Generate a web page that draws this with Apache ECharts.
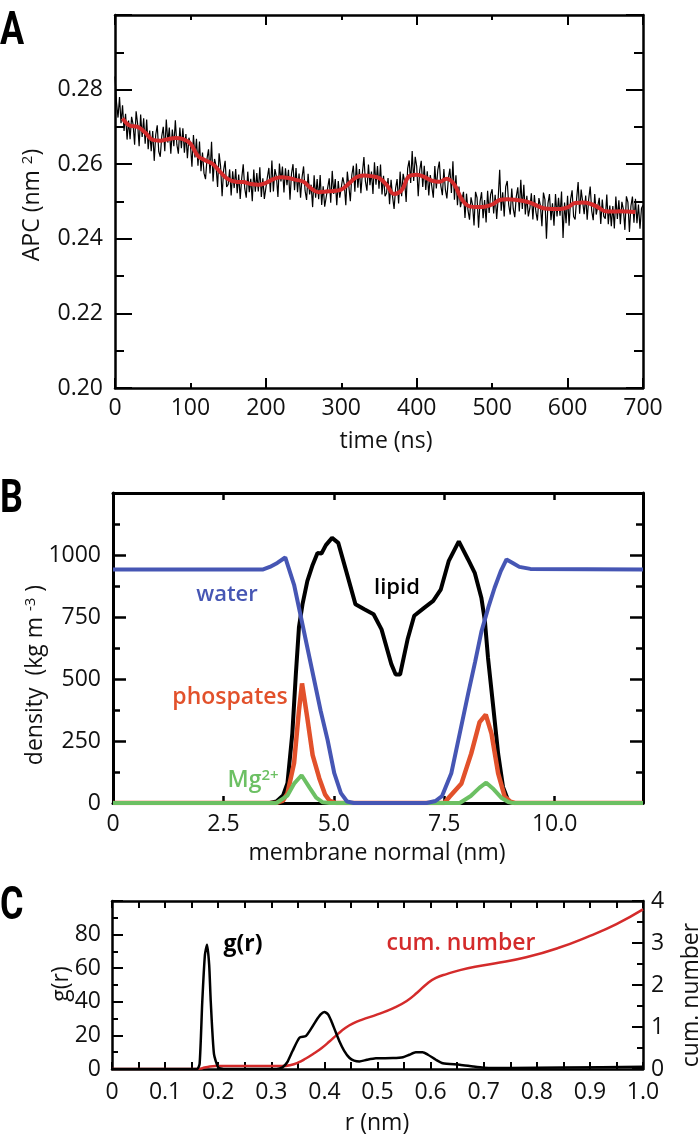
<!DOCTYPE html>
<html>
<head>
<meta charset="utf-8">
<title>APC, density profile and g(r)</title>
<script src="https://cdn.jsdelivr.net/npm/echarts@6.0.0/dist/echarts.min.js"></script>
<style>
html, body { margin: 0; padding: 0; background: #fff; }
#chart { width: 700px; height: 1137px; }
</style>
</head>
<body>
<div id="chart"></div>
<script>
// ---- panel A: area per lipid (APC) vs time ----
var rawStart = 0, rawStep = 2      // ns, sampling of the raw trace
var apcRaw = [
  0.2835, 0.2765, 0.2725, 0.2780, 0.2710, 0.2758, 0.2689, 0.2735, 0.2666, 0.2717,
  0.2667, 0.2727, 0.2707, 0.2652, 0.2742, 0.2708, 0.2648, 0.2733, 0.2673, 0.2723,
  0.2655, 0.2720, 0.2640, 0.2690, 0.2635, 0.2689, 0.2609, 0.2679, 0.2704, 0.2634,
  0.2620, 0.2675, 0.2700, 0.2635, 0.2720, 0.2658, 0.2698, 0.2628, 0.2693, 0.2648,
  0.2718, 0.2653, 0.2628, 0.2698, 0.2643, 0.2696, 0.2631, 0.2681, 0.2616, 0.2671,
  0.2653, 0.2593, 0.2678, 0.2618, 0.2668, 0.2596, 0.2661, 0.2581, 0.2631, 0.2576,
  0.2560, 0.2615, 0.2640, 0.2575, 0.2660, 0.2554, 0.2614, 0.2594, 0.2539, 0.2629,
  0.2594, 0.2514, 0.2584, 0.2609, 0.2539, 0.2546, 0.2586, 0.2516, 0.2581, 0.2536,
  0.2587, 0.2522, 0.2572, 0.2507, 0.2562, 0.2600, 0.2535, 0.2510, 0.2580, 0.2525,
  0.2561, 0.2501, 0.2586, 0.2526, 0.2576, 0.2527, 0.2592, 0.2512, 0.2562, 0.2507,
  0.2510, 0.2565, 0.2590, 0.2525, 0.2610, 0.2527, 0.2587, 0.2567, 0.2512, 0.2602,
  0.2554, 0.2594, 0.2524, 0.2589, 0.2544, 0.2585, 0.2505, 0.2575, 0.2600, 0.2530,
  0.2590, 0.2525, 0.2575, 0.2510, 0.2565, 0.2594, 0.2529, 0.2504, 0.2574, 0.2519,
  0.2545, 0.2485, 0.2570, 0.2510, 0.2560, 0.2506, 0.2571, 0.2491, 0.2541, 0.2486,
  0.2482, 0.2537, 0.2562, 0.2497, 0.2582, 0.2520, 0.2560, 0.2490, 0.2555, 0.2510,
  0.2505, 0.2565, 0.2545, 0.2490, 0.2580, 0.2581, 0.2501, 0.2571, 0.2596, 0.2526,
  0.2602, 0.2537, 0.2587, 0.2522, 0.2577, 0.2619, 0.2554, 0.2529, 0.2599, 0.2544,
  0.2580, 0.2520, 0.2605, 0.2545, 0.2595, 0.2534, 0.2599, 0.2519, 0.2569, 0.2514,
  0.2523, 0.2563, 0.2493, 0.2558, 0.2513, 0.2480, 0.2535, 0.2560, 0.2495, 0.2580,
  0.2514, 0.2574, 0.2554, 0.2499, 0.2589, 0.2610, 0.2550, 0.2635, 0.2555, 0.2620,
  0.2594, 0.2514, 0.2584, 0.2609, 0.2539, 0.2596, 0.2531, 0.2581, 0.2516, 0.2571,
  0.2570, 0.2510, 0.2595, 0.2535, 0.2585, 0.2607, 0.2542, 0.2517, 0.2587, 0.2532,
  0.2508, 0.2563, 0.2588, 0.2523, 0.2608, 0.2505, 0.2570, 0.2490, 0.2540, 0.2485,
  0.2486, 0.2526, 0.2456, 0.2521, 0.2476, 0.2451, 0.2511, 0.2491, 0.2436, 0.2526,
  0.2510, 0.2430, 0.2500, 0.2525, 0.2455, 0.2504, 0.2444, 0.2529, 0.2469, 0.2519,
  0.2533, 0.2468, 0.2518, 0.2453, 0.2508, 0.2585, 0.2475, 0.2525, 0.2460, 0.2540,
  0.2555, 0.2490, 0.2465, 0.2535, 0.2480, 0.2458, 0.2513, 0.2538, 0.2473, 0.2558,
  0.2480, 0.2545, 0.2465, 0.2515, 0.2460, 0.2482, 0.2522, 0.2452, 0.2517, 0.2472,
  0.2449, 0.2509, 0.2489, 0.2434, 0.2524, 0.2505, 0.2400, 0.2495, 0.2520, 0.2450,
  0.2495, 0.2435, 0.2520, 0.2460, 0.2510, 0.2462, 0.2527, 0.2402, 0.2497, 0.2442,
  0.2515, 0.2435, 0.2505, 0.2530, 0.2460, 0.2452, 0.2507, 0.2552, 0.2467, 0.2532,
  0.2531, 0.2466, 0.2516, 0.2451, 0.2506, 0.2540, 0.2475, 0.2450, 0.2520, 0.2465,
  0.2470, 0.2510, 0.2440, 0.2505, 0.2460, 0.2454, 0.2519, 0.2439, 0.2489, 0.2434,
  0.2488, 0.2428, 0.2513, 0.2453, 0.2503, 0.2439, 0.2499, 0.2479, 0.2424, 0.2514,
  0.2498, 0.2418, 0.2488, 0.2513, 0.2443, 0.2507, 0.2442, 0.2492, 0.2427, 0.2482,
  0.2490
]
var smoothStart = 10, smoothStep = 10   // ns, running average
var apcSmooth = [
  0.2723, 0.2703, 0.2700, 0.2685, 0.2665, 0.2663, 0.2667, 0.2670, 0.2667, 0.2655,
  0.2622, 0.2610, 0.2600, 0.2578, 0.2560, 0.2553, 0.2552, 0.2547, 0.2545, 0.2550,
  0.2560, 0.2565, 0.2563, 0.2558, 0.2553, 0.2535, 0.2525, 0.2527, 0.2528, 0.2532,
  0.2548, 0.2565, 0.2570, 0.2568, 0.2563, 0.2545, 0.2520, 0.2530, 0.2568, 0.2572,
  0.2566, 0.2556, 0.2553, 0.2561, 0.2545, 0.2505, 0.2487, 0.2485, 0.2486, 0.2492,
  0.2504, 0.2506, 0.2505, 0.2502, 0.2497, 0.2488, 0.2481, 0.2480, 0.2480, 0.2484,
  0.2496, 0.2497, 0.2494, 0.2485, 0.2474, 0.2473, 0.2474, 0.2473, 0.2472
]

// ---- panel B: density profiles along membrane normal, [nm, kg m^-3] ----
var water = [[0, 942], [3.4, 942], [3.55, 952], [3.72, 968], [3.9, 990], [4.1, 880], [4.25, 754],
  [4.4, 627], [4.55, 500], [4.7, 373], [4.86, 253], [5.01, 120], [5.16, 40], [5.3, 6], [5.45, 0],
  [7.1, 0], [7.3, 8], [7.45, 28], [7.66, 120], [7.85, 280], [8.04, 440], [8.2, 570], [8.34, 690],
  [8.5, 790], [8.64, 868], [8.78, 935], [8.91, 982], [9.05, 968], [9.2, 952], [9.45, 944], [12, 942]]
var lipid = [[0, 0], [3.55, 0], [3.7, 6], [3.85, 30], [3.95, 80], [4.06, 280], [4.14, 520], [4.21, 708],
  [4.29, 801], [4.4, 895], [4.52, 960], [4.63, 1008], [4.72, 1006], [4.82, 1040], [4.96, 1069],
  [5.1, 1049], [5.28, 935], [5.49, 801], [5.69, 781], [5.9, 761], [6.08, 700], [6.3, 561], [6.4, 518],
  [6.5, 518], [6.67, 660], [6.82, 755], [7.03, 785], [7.25, 815], [7.42, 860], [7.6, 975], [7.83, 1055],
  [8.04, 982], [8.19, 928], [8.34, 828], [8.42, 734], [8.49, 587], [8.61, 386], [8.72, 199],
  [8.83, 65], [8.95, 8], [9.05, 0], [12, 0]]
var phosphates = [[0, 0], [3.7, 0], [3.85, 10], [3.95, 39], [4.1, 161], [4.21, 373], [4.28, 482],
  [4.4, 342], [4.52, 193], [4.67, 100], [4.8, 35], [4.9, 10], [5.05, 0], [7.5, 0], [7.62, 25],
  [7.89, 79], [8.11, 199], [8.3, 326], [8.44, 356], [8.57, 280], [8.72, 119], [8.87, 25], [9.0, 5],
  [9.1, 0], [12, 0]]
var magnesium = [[0, 0], [3.7, 0], [3.95, 30], [4.1, 78], [4.27, 112], [4.45, 62], [4.6, 22],
  [4.75, 3], [4.9, 0], [7.85, 0], [8.1, 28], [8.3, 62], [8.45, 82], [8.62, 55], [8.8, 20],
  [8.95, 4], [9.05, 0], [12, 0]]

// ---- panel C: radial distribution and cumulative number, [nm, value] ----
var gr = [[0, 0], [0.16, 0], [0.165, 3], [0.17, 40], [0.175, 68], [0.179, 74], [0.183, 62],
  [0.186, 40], [0.192, 9], [0.2, 1], [0.21, 0], [0.31, 0], [0.321, 1], [0.33, 4], [0.34, 10.7],
  [0.353, 18.6], [0.365, 19.6], [0.375, 24], [0.384, 28.6], [0.393, 32.5], [0.4, 34], [0.407, 32.5],
  [0.413, 28.6], [0.42, 23], [0.428, 16.7], [0.437, 11], [0.447, 6.7], [0.456, 5], [0.466, 4.5],
  [0.48, 5.5], [0.497, 6.4], [0.529, 6.5], [0.548, 7], [0.56, 8.5], [0.572, 10], [0.585, 10],
  [0.595, 8.5], [0.61, 5.5], [0.623, 3.4], [0.655, 2.6], [0.68, 1.5], [0.7, 0.8], [0.75, 0.6],
  [0.85, 0.9], [1.0, 1.3]]
var cumNumber = [[0, 0], [0.16, 0], [0.17, 0.02], [0.18, 0.05], [0.195, 0.07], [0.32, 0.07],
  [0.335, 0.09], [0.35, 0.15], [0.365, 0.25], [0.38, 0.37], [0.395, 0.5], [0.41, 0.66],
  [0.425, 0.83], [0.44, 0.98], [0.455, 1.09], [0.47, 1.17], [0.5, 1.3], [0.53, 1.45],
  [0.555, 1.62], [0.575, 1.82], [0.595, 2.05], [0.61, 2.17], [0.63, 2.26], [0.67, 2.4],
  [0.72, 2.51], [0.78, 2.66], [0.84, 2.88], [0.9, 3.17], [0.95, 3.45], [1.0, 3.8]]

var FONT = 'Open Sans'
var BLUE = '#4656b4', ORANGE = '#e2512b', GREEN = '#6cc063', RED = '#d42b2b'

function frameAxis(o) {
    return {
        type: 'value',
        gridIndex: o.grid,
        position: o.pos,
        min: o.min,
        max: o.max,
        interval: o.interval,
        axisLine: { show: o.line !== false, onZero: false, lineStyle: { color: '#000', width: o.lw || 2.5 } },
        axisTick: { show: true, inside: true, length: o.tick, lineStyle: { color: '#000', width: o.tw || 2 } },
        minorTick: { show: !!o.minor, splitNumber: 2, length: o.minor || 0, lineStyle: { color: '#000', width: o.tw || 2 } },
        axisLabel: o.fmt ? {
            show: true, margin: o.margin, formatter: o.fmt,
            fontFamily: FONT, fontSize: 23, color: '#111'
        } : { show: false },
        splitLine: { show: false },
        minorSplitLine: { show: false }
    }
}

function txt(x, y, text, o) {
    o = o || {}
    var el = {
        type: 'text', x: x, y: y, rotation: o.rot || 0, scaleX: o.sx || 1, z: 100,
        style: {
            text: text, fill: o.color || '#111',
            fontFamily: o.family || FONT, fontSize: o.size || 23, fontWeight: o.weight || 'normal',
            align: o.align || 'center', verticalAlign: 'middle'
        }
    }
    if (o.rich) el.style.rich = o.rich
    return el
}

function letter(y, ch) {
    return txt(0, y, ch, { family: 'Roboto', weight: 'bold', size: 46, align: 'left', color: '#000', sx: 0.78 })
}

var fmtA = function (v) { return v > 0.295 ? '' : v.toFixed(2) }
var fmtB = function (v) { return v > 1100 ? '' : String(v) }
var fmtBx = function (v) { return v === 0 ? '0' : (v > 11 ? '' : v.toFixed(1)) }
var fmtCx = function (v) { return v === 0 ? '0' : v.toFixed(1) }
var fmtCl = function (v) { return v > 90 ? '' : String(v) }

var supRich = {
    a: { fontFamily: FONT, fontSize: 23, fill: '#111' },
    s: { fontFamily: FONT, fontSize: 15, fill: '#111', verticalAlign: 'top' }
}

var chart = echarts.init(document.getElementById('chart'))

var option = {
    animation: false,
    backgroundColor: '#fff',
    grid: [
        { left: 115, top: 15, width: 528, height: 373, outerBoundsMode: 'none' },
        { left: 115, top: 15, width: 528, height: 373, outerBoundsMode: 'none' },
        { left: 113, top: 493, width: 530, height: 310, outerBoundsMode: 'none' },
        { left: 112, top: 901, width: 531, height: 168, outerBoundsMode: 'none' }
    ],
    xAxis: [
        frameAxis({ grid: 0, pos: 'bottom', min: 0, max: 700, interval: 100, tick: 5, margin: 9, fmt: function (v) { return String(v) } }),
        frameAxis({ grid: 0, pos: 'top', min: 0, max: 700, interval: 100, tick: 5 }),
        frameAxis({ grid: 1, pos: 'bottom', min: 0, max: 700, interval: 200, tick: 10, line: false }),
        frameAxis({ grid: 1, pos: 'top', min: 0, max: 700, interval: 200, tick: 10, line: false }),
        frameAxis({ grid: 2, pos: 'bottom', min: 0, max: 12, interval: 2.5, tick: 7, lw: 3, tw: 2.5, margin: 10, fmt: fmtBx }),
        frameAxis({ grid: 2, pos: 'top', min: 0, max: 12, interval: 2.5, tick: 7, lw: 3, tw: 2.5 }),
        frameAxis({ grid: 3, pos: 'bottom', min: 0, max: 1, interval: 0.1, tick: 7, minor: 7, margin: 12, fmt: fmtCx }),
        frameAxis({ grid: 3, pos: 'top', min: 0, max: 1, interval: 0.1, tick: 7, minor: 7 })
    ],
    yAxis: [
        frameAxis({ grid: 0, pos: 'left', min: 0.2, max: 0.3, interval: 0.02, tick: 17, minor: 9, margin: 12, fmt: fmtA }),
        frameAxis({ grid: 0, pos: 'right', min: 0.2, max: 0.3, interval: 0.02, tick: 17, minor: 9 }),
        { type: 'value', gridIndex: 1, min: 0, max: 1, show: false },
        frameAxis({ grid: 2, pos: 'left', min: 0, max: 1250, interval: 250, tick: 13, minor: 7, lw: 3, tw: 2.5, margin: 12, fmt: fmtB }),
        frameAxis({ grid: 2, pos: 'right', min: 0, max: 1250, interval: 250, tick: 13, minor: 7, lw: 3, tw: 2.5 }),
        frameAxis({ grid: 3, pos: 'left', min: 0, max: 100, interval: 20, tick: 11, minor: 6, margin: 11, fmt: fmtCl }),
        frameAxis({ grid: 3, pos: 'right', min: 0, max: 4, interval: 1, tick: 11, minor: 6, margin: 8, fmt: function (v) { return String(v) } })
    ],
    series: [
        {
            name: 'APC', type: 'line', xAxisIndex: 0, yAxisIndex: 0, showSymbol: false,
            data: apcRaw.map(function (v, i) { return [rawStart + i * rawStep, v] }),
            lineStyle: { color: '#000', width: 1.2 }
        },
        {
            name: 'APC average', type: 'line', xAxisIndex: 0, yAxisIndex: 0, showSymbol: false, smooth: 0.4,
            data: apcSmooth.map(function (v, i) { return [smoothStart + i * smoothStep, v] }),
            lineStyle: { color: RED, width: 4 }
        },
        {
            name: 'lipid', type: 'line', xAxisIndex: 4, yAxisIndex: 3, showSymbol: false,
            data: lipid, lineStyle: { color: '#000', width: 4 }
        },
        {
            name: 'phospates', type: 'line', xAxisIndex: 4, yAxisIndex: 3, showSymbol: false,
            data: phosphates, lineStyle: { color: ORANGE, width: 4.5 }
        },
        {
            name: 'Mg2+', type: 'line', xAxisIndex: 4, yAxisIndex: 3, showSymbol: false,
            data: magnesium, lineStyle: { color: GREEN, width: 4 }
        },
        {
            name: 'water', type: 'line', xAxisIndex: 4, yAxisIndex: 3, showSymbol: false,
            data: water, lineStyle: { color: BLUE, width: 4 }
        },
        {
            name: 'cum. number', type: 'line', xAxisIndex: 6, yAxisIndex: 6, showSymbol: false, smooth: 0.5,
            data: cumNumber, lineStyle: { color: RED, width: 2.5 }
        },
        {
            name: 'g(r)', type: 'line', xAxisIndex: 6, yAxisIndex: 5, showSymbol: false, smooth: 0.2,
            data: gr, lineStyle: { color: '#000', width: 2.5 }
        }
    ],
    graphic: [
        // panel letters
        letter(32, 'A'),
        letter(500, 'B'),
        letter(907, 'C'),
        // axis titles
        txt(386, 441, 'time (ns)'),
        txt(32, 205, '{a|APC (nm }{s|2}{a|)}', { rot: Math.PI / 2, rich: supRich }),
        txt(377, 853, 'membrane normal (nm)'),
        txt(35, 675, '{a|density  (kg m }{s|-3}{a| )}', { rot: Math.PI / 2, rich: supRich }),
        txt(377, 1123, 'r (nm)'),
        txt(61, 984, 'g(r)', { rot: Math.PI / 2 }),
        txt(691, 995, 'cum. number', { rot: Math.PI / 2 }),
        // in-plot labels
        txt(227, 595, 'water', { color: BLUE, weight: 600, size: 22 }),
        txt(397, 588, 'lipid', { color: '#000', weight: 600, size: 22 }),
        txt(230, 697, 'phospates', { color: ORANGE, weight: 600, size: 23 }),
        txt(253, 780, '{m|Mg}{s|2+}', { rich: {
            m: { fontFamily: FONT, fontSize: 23, fontWeight: 600, fill: GREEN },
            s: { fontFamily: FONT, fontSize: 15, fontWeight: 600, fill: GREEN, verticalAlign: 'top' } } }),
        txt(243, 944, 'g(r)', { color: '#000', weight: 'bold', size: 23 }),
        txt(461, 943, 'cum. number', { color: RED, weight: 600, size: 23 })
    ]
}

chart.setOption(option)
</script>
</body>
</html>
